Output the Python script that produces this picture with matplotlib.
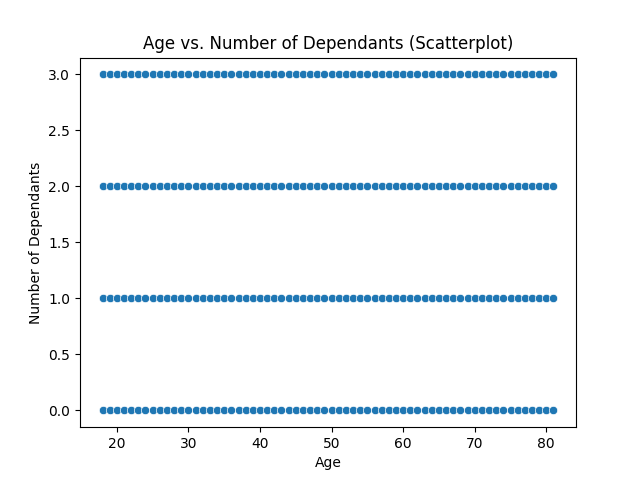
import matplotlib
matplotlib.use("Agg")
import matplotlib.pyplot as plt
import seaborn as sns
import pandas as pd

ages = [18, 19, 20, 21, 22, 23, 24, 25, 26, 27, 28, 29, 30, 31, 32, 33,
        34, 35, 36, 37, 38, 39, 40, 41, 42, 43, 44, 45, 46, 47, 48, 49,
        50, 51, 52, 53, 54, 55, 56, 57, 58, 59, 60, 61, 62, 63, 64, 65,
        66, 67, 68, 69, 70, 71, 72, 73, 74, 75, 76, 77, 78, 79, 80, 81]
dependants = [0, 1, 2, 3]

rows = [(a, d) for d in dependants for a in ages]
df = pd.DataFrame(rows, columns=["Age", "Number of Dependants"])

fig, ax = plt.subplots(figsize=(6.4, 4.8), dpi=100)
sns.scatterplot(data=df, x="Age", y="Number of Dependants", ax=ax)
ax.set_title("Age vs. Number of Dependants (Scatterplot)")
ax.set_xlabel("Age")
ax.set_ylabel("Number of Dependants")
fig.savefig("out.png", dpi=100)
